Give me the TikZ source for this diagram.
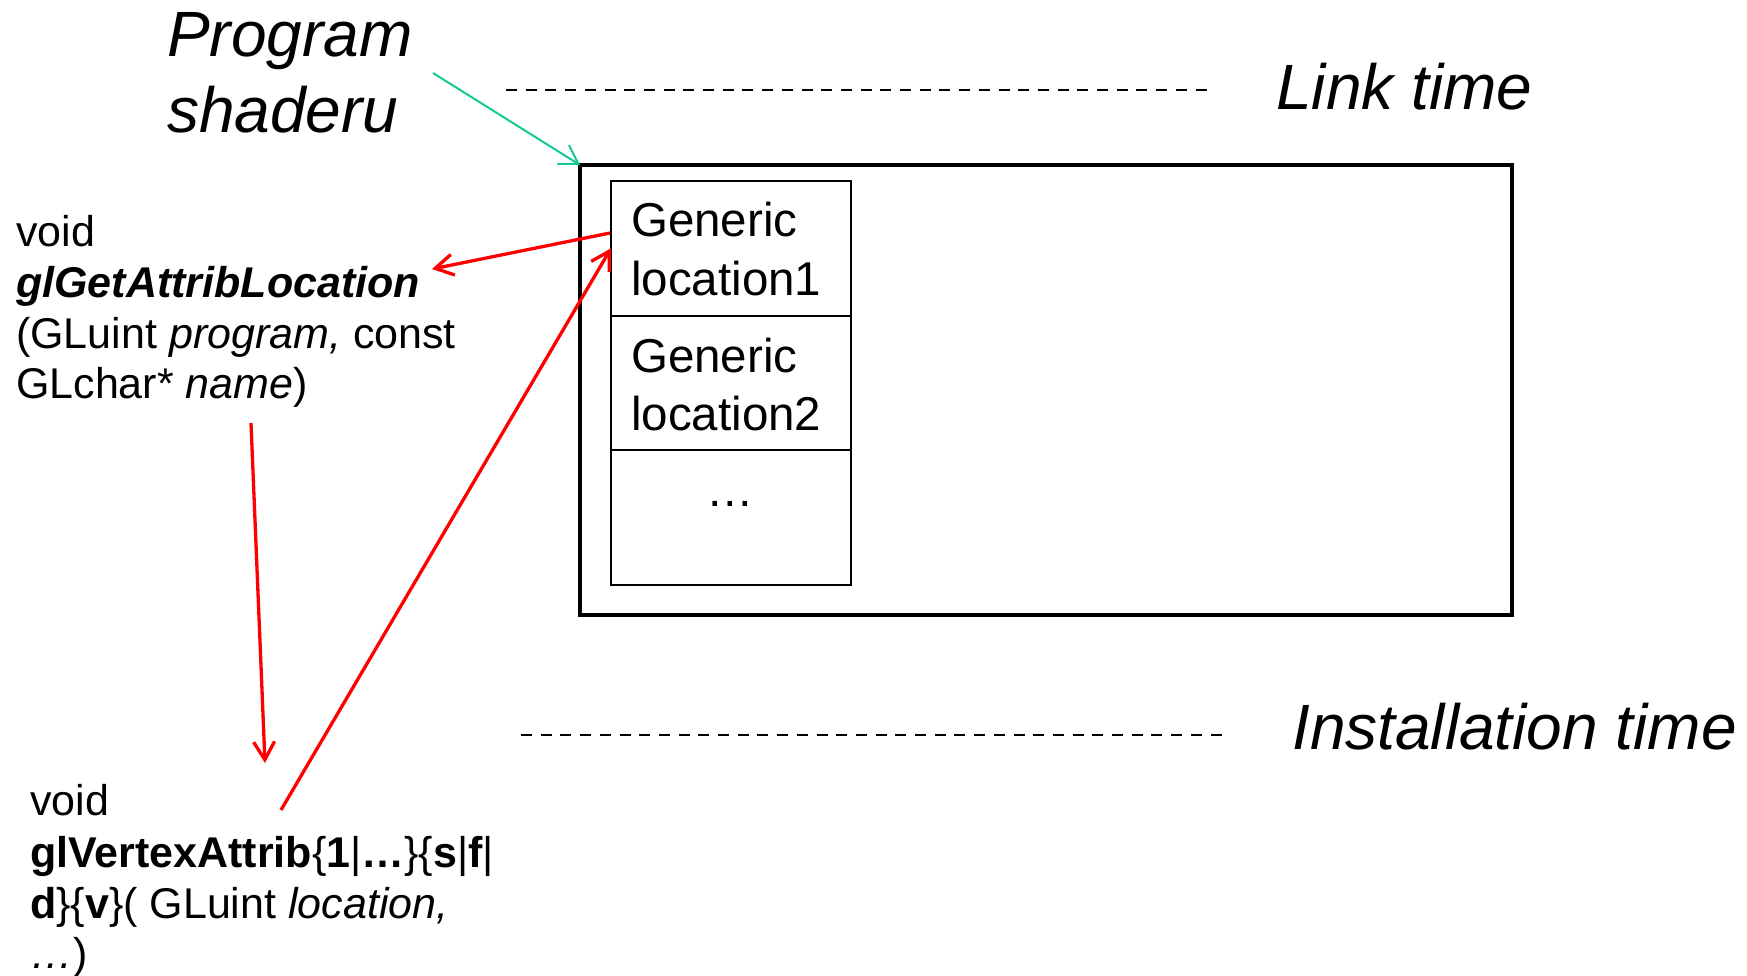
\documentclass[tikz,border=0pt]{standalone}
\usepackage{fontspec}
\setmainfont{Liberation Sans}
\usetikzlibrary{arrows.meta}
\definecolor{arrred}{RGB}{255,0,0}
\definecolor{arrgreen}{RGB}{20,200,150}
\begin{document}
\begin{tikzpicture}[x=1pt,y=-1pt,
  big/.style={font=\fontsize{64}{76}\selectfont\itshape, inner sep=0pt, anchor=base west},
  gen/.style={font=\fontsize{47.5}{57}\selectfont, inner sep=0pt, anchor=base west},
  fn/.style={font=\fontsize{43}{51}\selectfont, inner sep=0pt, anchor=base west},
  dashline/.style={line width=2pt, dash pattern=on 11pt off 8.7pt},
  cell/.style={draw, line width=2pt, minimum width=240pt, minimum height=134.7pt, inner sep=0pt, outer sep=0pt, anchor=north west},
  redarrow/.style={draw=arrred, line width=3.3pt, -{Straight Barb[length=18pt,width=21pt,line width=3.3pt]}},
  greenarrow/.style={draw=arrgreen, line width=2pt, -{Straight Barb[length=18pt,width=22pt,line width=2pt]}},
]
\useasboundingbox (0,0) rectangle (1747,976);

% big italic labels
\node[big] (prg) at (167,57) {Program};
\node[big] (shd) at (167,133) {shaderu};
\node[big] (link) at (1276,110) {Link time};
\node[big] (inst) at (1292,749) {Installation time};

% dashed separators
\coordinate (d1a) at (506,90);
\coordinate (d1b) at (1208,90);
\coordinate (d2a) at (521,735);
\coordinate (d2b) at (1222,735);
\draw[dashline] (d1a) -- (d1b);
\draw[dashline] (d2a) -- (d2b);

% program box
\node[draw, line width=4.5pt, minimum width=932pt, minimum height=450pt, inner sep=0pt, outer sep=0pt, anchor=north west] (prog) at (580,165) {};

% location cells
\node[cell] (c1) at (611,181) {};
\node[cell] (c2) at (611,315.7) {};
\node[cell] (c3) at (611,450.4) {};
\node[gen] (g1a) at (631,237) {Generic};
\node[gen] (g1b) at (631,295) {location1};
\node[gen] (g2a) at (631,372) {Generic};
\node[gen] (g2b) at (631,430) {location2};
\node[font=\fontsize{47.5}{57}\selectfont, inner sep=0pt, anchor=base] (dots) at (730,506) {…};

% function texts
\node[fn] (f1a) at (16,247) {void};
\node[fn] (f1b) at (16,297) {\textbf{\textit{glGetAttribLocation}}};
\node[fn] (f1c) at (16,348) {(GLuint \textit{program,} const};
\node[fn] (f1d) at (16,398) {GLchar* \textit{name})};

\node[fn] (f2a) at (30,815) {void};
\node[fn] (f2b) at (30,867) {\textbf{glVertexAttrib}\{\textbf{1}|\textbf{…}\}\{\textbf{s}|\textbf{f}|};
\node[fn] (f2c) at (30,918) {\textbf{d}\}\{\textbf{v}\}( GLuint \textit{location,}};
\node[fn] (f2d) at (30,968) {\textit{…})};

% arrows
\coordinate (gs) at (433,73);
\draw[greenarrow] (gs) -- (prog.north west);

\coordinate (r1s) at (610,233);
\coordinate (r1t) at (432,269);
\draw[redarrow] (r1s) -- (r1t);

\coordinate (r2s) at (251,423);
\coordinate (r2t) at (265,763);
\draw[redarrow] (r2s) -- (r2t);

\coordinate (r3s) at (281,810);
\draw[redarrow] (r3s) -- (c1.west);
\end{tikzpicture}
\end{document}
